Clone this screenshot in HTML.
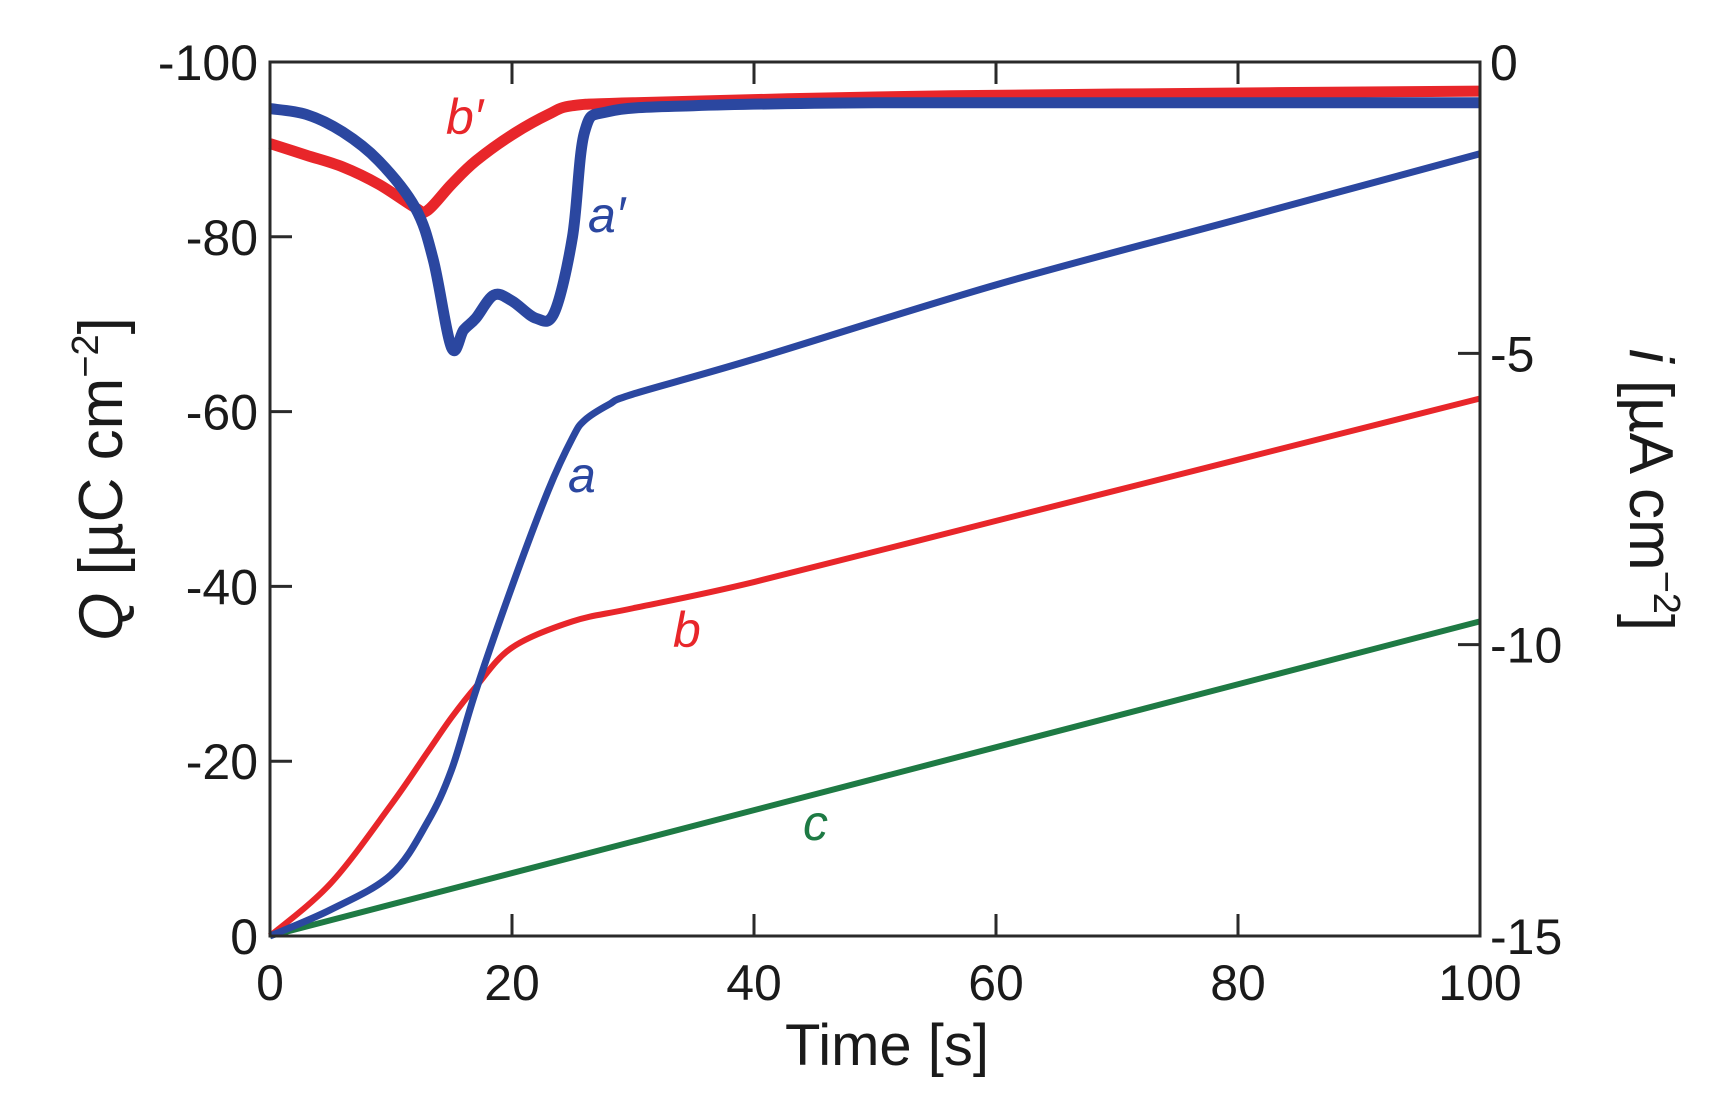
<!DOCTYPE html>
<html><head><meta charset="utf-8"><style>
body{margin:0;background:#fff}
text{font-family:"Liberation Sans",sans-serif;fill:#1a1a1a}
</style></head><body>
<svg id="chart" width="1719" height="1108" xmlns="http://www.w3.org/2000/svg"></svg>
<script>
const timeA=[0,5,10,13,15,17,20,23,25,26,28,30,40,60,80,100];
const qA=[0,3,7,13,19,28,40,51,57,59,60.8,62,66,74.5,82,89.5];
const timeB=[0,5,10,13,15,17,20,25,30,40,60,80,100];
const qB=[0,6,15,21,25,28.5,33,36,37.5,40.5,47.5,54.5,61.5];
const timeC=[0,100];
const qC=[0,36];
const timeAp=[0,3,6,9,12,13.5,15,16,17,18.5,20,22,23.5,25,26,28,35,50,70,100];
const iAp=[-0.8,-0.9,-1.2,-1.7,-2.5,-3.4,-4.9,-4.6,-4.4,-4.0,-4.1,-4.4,-4.3,-3.0,-1.2,-0.85,-0.75,-0.7,-0.7,-0.7];
const timeBp=[0,3,6,9,12,13,15,17,20,23,25,30,50,70,100];
const iBp=[-1.4,-1.6,-1.8,-2.1,-2.5,-2.55,-2.1,-1.7,-1.25,-0.9,-0.75,-0.7,-0.6,-0.55,-0.5];
const xTicks=[0,20,40,60,80,100];
const qTicks=[0,-20,-40,-60,-80,-100];
const iTicks=[0,-5,-10,-15];

const X0=270,X1=1480,Y0=62,Y1=936;
const NS="http://www.w3.org/2000/svg";
const svg=document.getElementById('chart');
const xs=t=>X0+(X1-X0)*t/100;
const yq=q=>Y1-(Y1-Y0)*(-q)/100;
const yqm=m=>Y1-(Y1-Y0)*m/100;
const yi=i=>Y0+(Y1-Y0)*(-i)/15;
function el(tag,attrs){const e=document.createElementNS(NS,tag);for(const k in attrs)e.setAttribute(k,attrs[k]);svg.appendChild(e);return e;}
function smooth(pts){let d=`M${pts[0][0]},${pts[0][1]}`;for(let k=0;k<pts.length-1;k++){const p0=pts[Math.max(k-1,0)],p1=pts[k],p2=pts[k+1],p3=pts[Math.min(k+2,pts.length-1)];
d+=` C${p1[0]+(p2[0]-p0[0])/6},${p1[1]+(p2[1]-p0[1])/6} ${p2[0]-(p3[0]-p1[0])/6},${p2[1]-(p3[1]-p1[1])/6} ${p2[0]},${p2[1]}`;}return d;}

let p=el('path',{d:smooth(timeBp.map((t,k)=>[xs(t),yi(iBp[k])])),fill:'none',stroke:'#e8262a','stroke-width':11,'stroke-linejoin':'round'});


p=el('path',{d:smooth(timeAp.map((t,k)=>[xs(t),yi(iAp[k])])),fill:'none',stroke:'#2b47a0','stroke-width':11,'stroke-linejoin':'round'});


p=el('path',{d:smooth(timeC.map((t,k)=>[xs(t),yqm(qC[k])])),fill:'none',stroke:'#1e7a44','stroke-width':6});


p=el('path',{d:smooth(timeB.map((t,k)=>[xs(t),yqm(qB[k])])),fill:'none',stroke:'#e8262a','stroke-width':6});


p=el('path',{d:smooth(timeA.map((t,k)=>[xs(t),yqm(qA[k])])),fill:'none',stroke:'#2b47a0','stroke-width':7});



p=el('rect',{x:X0,y:Y0,width:X1-X0,height:Y1-Y0,fill:'none',stroke:'#2a2a2a','stroke-width':3});


xTicks.forEach(t=>{
  let l=el('line',{x1:xs(t),x2:xs(t),y1:Y1,y2:Y1-22,stroke:'#2a2a2a','stroke-width':3});
  
  
  l=el('line',{x1:xs(t),x2:xs(t),y1:Y0,y2:Y0+22,stroke:'#2a2a2a','stroke-width':3});
  
  
  const tx=el('text',{x:xs(t),y:1000,'font-size':50,'text-anchor':'middle'});tx.textContent=t;
  
  
});
qTicks.forEach(q=>{
  let l=el('line',{x1:X0,x2:X0+22,y1:yq(q),y2:yq(q),stroke:'#2a2a2a','stroke-width':3});
  
  
  const tx=el('text',{x:X0-12,y:yq(q)+18,'font-size':50,'text-anchor':'end'});tx.textContent=q;
  
  
});
iTicks.forEach(i=>{
  let l=el('line',{x1:X1,x2:X1-22,y1:yi(i),y2:yi(i),stroke:'#2a2a2a','stroke-width':3});
  
  
  const tx=el('text',{x:X1+10,y:yi(i)+18,'font-size':50,'text-anchor':'start'});tx.textContent=i;
  
  
});
</script>
<svg style="position:absolute;left:0;top:0" width="1719" height="1108" xmlns="http://www.w3.org/2000/svg">
<text x="887" y="1065" font-size="58" text-anchor="middle">Time [s]</text>
<text transform="translate(122,479) rotate(-90)" font-size="62" text-anchor="middle"><tspan font-style="italic">Q</tspan> [µC cm<tspan dy="-24" font-size="38">−2</tspan><tspan dy="24">]</tspan></text>
<text transform="translate(1630,490) rotate(90)" font-size="62" text-anchor="middle"><tspan font-style="italic">i</tspan> [µA cm<tspan dy="-24" font-size="38">−2</tspan><tspan dy="24">]</tspan></text>
<g font-size="50" font-style="italic">
<text x="446" y="134" style="fill:#e8262a">b′</text>
<text x="588" y="232" style="fill:#2b47a0">a′</text>
<text x="568" y="492" style="fill:#2b47a0">a</text>
<text x="673" y="647" style="fill:#e8262a">b</text>
<text x="803" y="840" style="fill:#1e7a44">c</text>
</g>
</svg>
</body></html>
